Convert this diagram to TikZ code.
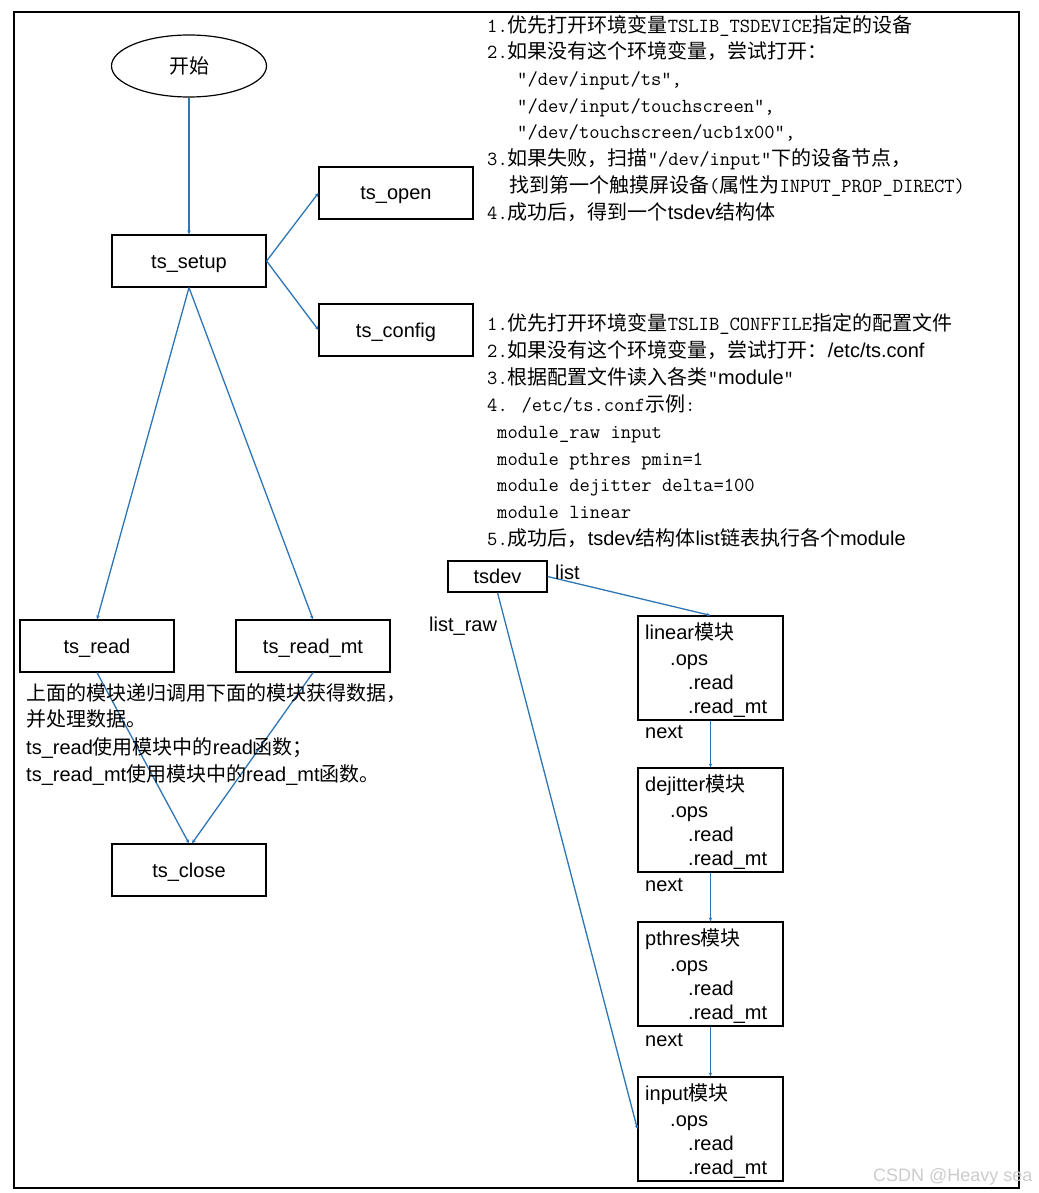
\documentclass[tikz,border=0pt]{standalone}
\usepackage{fontspec}
\setmainfont{Liberation Sans}
\newfontfamily\cjkfont{Noto Sans CJK SC}
\usetikzlibrary{arrows.meta,shapes.geometric}
\newcommand\cnx[1]{{\cjkfont #1}}
\newcommand\mtt[1]{{\ttfamily #1}}
\definecolor{lnblue}{RGB}{46,117,182}
\begin{document}
\begin{tikzpicture}[x=1pt,y=-1pt,
  every node/.style={font=\fontsize{20}{24}\selectfont},
  fbox/.style={draw,line width=1.2pt,minimum width=154pt,minimum height=52pt,inner sep=0pt,text height=15pt,text depth=1pt},
  modbox/.style={draw,line width=1.2pt,minimum width=145pt,minimum height=104pt,inner sep=0pt},
  txt/.style={anchor=base west,inner sep=0pt},
  arr/.style={draw=lnblue,line width=1.3pt,-{Stealth[length=4pt,width=3.5pt]}}]
\useasboundingbox (0,0) rectangle (1038,1193);
\draw[line width=1.2pt] (14,12) rectangle (1019,1188);

% left flow
\node[draw,ellipse,line width=1.2pt,minimum width=155pt,minimum height=62pt,inner sep=0pt] (start) at (189,66) {\cnx{开始}};
\node[fbox] (setup) at (189,261) {ts\_setup};
\node[fbox] (open) at (396,193) {ts\_open};
\node[fbox] (config) at (396,330) {ts\_config};
\node[fbox] (read) at (97,646) {ts\_read};
\node[fbox] (readmt) at (313,646) {ts\_read\_mt};
\node[fbox] (close) at (189,870) {ts\_close};

\draw[arr] (start.south) -- (setup.north);
\draw[arr] (setup.east) -- (open.west);
\draw[arr] (setup.east) -- (config.west);
\draw[arr] (setup.south) -- (read.north);
\draw[arr] (setup.south) -- (readmt.north);
\draw[arr] (read.south) -- (close.north);
\draw[arr] (readmt.south) -- ([xshift=3pt]close.north);

% note block 1
\node[txt] (a1) at (487,33) {\mtt{1.}\cnx{优先打开环境变量}\mtt{TSLIB\_TSDEVICE}\cnx{指定的设备}};
\node[txt] (a2) at (487,59) {\mtt{2.}\cnx{如果没有这个环境变量，尝试打开：}};
\node[txt] (a3) at (517,86) {\mtt{"/dev/input/ts",}};
\node[txt] (a4) at (517,113) {\mtt{"/dev/input/touchscreen",}};
\node[txt] (a5) at (517,139) {\mtt{"/dev/touchscreen/ucb1x00",}};
\node[txt] (a6) at (487,166) {\mtt{3.}\cnx{如果失败，扫描}\mtt{"/dev/input"}\cnx{下的设备节点，}};
\node[txt] (a7) at (509,193) {\cnx{找到第一个触摸屏设备}\mtt{(}\cnx{属性为}\mtt{INPUT\_PROP\_DIRECT)}};
\node[txt] (a8) at (487,219) {\mtt{4.}\cnx{成功后，得到一个}tsdev\cnx{结构体}};

% note block 2
\node[txt] (b1) at (487,330) {\mtt{1.}\cnx{优先打开环境变量}\mtt{TSLIB\_CONFFILE}\cnx{指定的配置文件}};
\node[txt] (b2) at (487,357) {\mtt{2.}\cnx{如果没有这个环境变量，尝试打开：}/etc/ts.conf};
\node[txt] (b3) at (487,384) {\mtt{3.}\cnx{根据配置文件读入各类}\mtt{"}module\mtt{"}};
\node[txt] (b4) at (487,411) {\mtt{4. /etc/ts.conf}\cnx{示例}\mtt{:}};
\node[txt] (b5) at (497,438) {\mtt{module\_raw input}};
\node[txt] (b6) at (497,465) {\mtt{module pthres pmin=1}};
\node[txt] (b7) at (497,491) {\mtt{module dejitter delta=100}};
\node[txt] (b8) at (497,518) {\mtt{module linear}};
\node[txt] (b9) at (487,545) {\mtt{5.}\cnx{成功后，}tsdev\cnx{结构体}list\cnx{链表执行各个}module};

% left note
\node[txt] (n1) at (26,700) {\cnx{上面的模块递归调用下面的模块获得数据，}};
\node[txt] (n2) at (26,726) {\cnx{并处理数据。}};
\node[txt] (n3) at (26,754) {ts\_read\cnx{使用模块中的}read\cnx{函数；}};
\node[txt] (n4) at (26,781) {ts\_read\_mt\cnx{使用模块中的}read\_mt\cnx{函数。}};

% tsdev and modules
\node[draw,line width=1.2pt,minimum width=99pt,minimum height=31pt,inner sep=0pt,text height=15pt,text depth=1pt] (tsdev) at (497.5,576.5) {tsdev};
\foreach \n/\ttl/\tp in {lin/linear/616,dej/dejitter/768,pth/pthres/922,inp/input/1077}{
  \node[modbox] (\n) at (710.5,\tp+52) {};
  \node[txt] (\n-t) at (645,\tp+23) {\ttl\cnx{模块}};
  \node[txt] (\n-o) at (670,\tp+49) {.ops};
  \node[txt] (\n-r) at (688,\tp+73) {.read};
  \node[txt] (\n-m) at (688,\tp+97) {.read\_mt};
}
\draw[arr] (tsdev.east) -- (lin.north);
\draw[arr] (tsdev.south) -- (inp.west);
\draw[arr] (lin.south) -- (dej.north);
\draw[arr] (dej.south) -- (pth.north);
\draw[arr] (pth.south) -- (inp.north);

\node[txt] (llist) at (555,579) {list};
\node[txt] (lraw) at (429,631) {list\_raw};
\node[txt] (nx1) at (645,738) {next};
\node[txt] (nx2) at (645,891) {next};
\node[txt] (nx3) at (645,1046) {next};

\node[txt,text=gray!40,font=\fontsize{18}{20}\selectfont] (wm) at (873,1181) {CSDN @Heavy sea};
\end{tikzpicture}
\end{document}
